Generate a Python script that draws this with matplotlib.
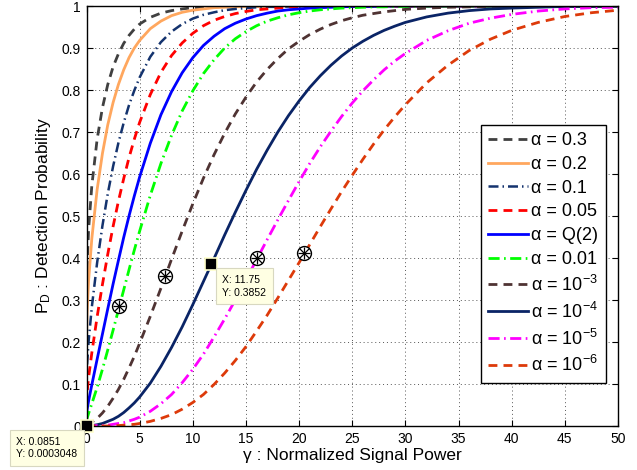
import matplotlib
matplotlib.use('Agg')
import matplotlib.pyplot as plt

plt.rcParams['font.family'] = ['Liberation Sans', 'DejaVu Sans']
plt.rcParams['mathtext.fontset'] = 'custom'
plt.rcParams['mathtext.rm'] = 'Liberation Sans'
plt.rcParams['mathtext.it'] = 'Liberation Sans:italic'

# Normalized signal power (x values)
gamma = [0, 0.05, 0.2, 0.5, 1, 1.5, 2, 2.5, 3, 3.5, 4, 4.5, 5,
         6, 7, 8, 9, 10, 11, 12, 13, 14, 15, 16, 17, 18, 19, 20,
         21, 22, 23, 24, 25, 26, 27, 28, 29, 30,
         32, 34, 36, 38, 40, 42.5, 45, 47.5, 50]

pd_a03 = [0.300, 0.382, 0.469, 0.572, 0.683, 0.758, 0.813, 0.855, 0.886, 0.911, 0.930, 0.945, 0.957,
          0.973, 0.983, 0.989, 0.993, 0.996, 0.997, 0.998, 0.999, 0.999, 1.000, 1.000, 1.000, 1.000, 1.000, 1.000,
          1.000, 1.000, 1.000, 1.000, 1.000, 1.000, 1.000, 1.000, 1.000, 1.000,
          1.000, 1.000, 1.000, 1.000, 1.000, 1.000, 1.000, 1.000, 1.000]
pd_a02 = [0.200, 0.268, 0.347, 0.446, 0.563, 0.649, 0.717, 0.770, 0.813, 0.848, 0.877, 0.900, 0.918,
          0.946, 0.964, 0.977, 0.985, 0.990, 0.993, 0.996, 0.997, 0.998, 0.999, 0.999, 0.999, 1.000, 1.000, 1.000,
          1.000, 1.000, 1.000, 1.000, 1.000, 1.000, 1.000, 1.000, 1.000, 1.000,
          1.000, 1.000, 1.000, 1.000, 1.000, 1.000, 1.000, 1.000, 1.000]
pd_a01 = [0.100, 0.145, 0.202, 0.283, 0.389, 0.477, 0.553, 0.618, 0.674, 0.722, 0.764, 0.799, 0.830,
          0.879, 0.914, 0.939, 0.957, 0.970, 0.979, 0.985, 0.990, 0.993, 0.995, 0.997, 0.998, 0.998, 0.999, 0.999,
          0.999, 1.000, 1.000, 1.000, 1.000, 1.000, 1.000, 1.000, 1.000, 1.000,
          1.000, 1.000, 1.000, 1.000, 1.000, 1.000, 1.000, 1.000, 1.000]
pd_a005 = [0.050, 0.078, 0.116, 0.174, 0.260, 0.337, 0.409, 0.475, 0.535, 0.589, 0.639, 0.683, 0.723,
           0.789, 0.842, 0.882, 0.912, 0.935, 0.953, 0.966, 0.975, 0.982, 0.987, 0.991, 0.993, 0.995, 0.997, 0.998,
           0.998, 0.999, 0.999, 0.999, 0.999, 1.000, 1.000, 1.000, 1.000, 1.000,
           1.000, 1.000, 1.000, 1.000, 1.000, 1.000, 1.000, 1.000, 1.000]
pd_aq2 = [0.023, 0.038, 0.060, 0.098, 0.159, 0.219, 0.279, 0.338, 0.394, 0.449, 0.500, 0.548, 0.593,
          0.673, 0.741, 0.796, 0.841, 0.877, 0.906, 0.928, 0.946, 0.959, 0.969, 0.977, 0.983, 0.988, 0.991, 0.993,
          0.995, 0.996, 0.997, 0.998, 0.999, 0.999, 0.999, 1.000, 1.000, 1.000,
          1.000, 1.000, 1.000, 1.000, 1.000, 1.000, 1.000, 1.000, 1.000]
pd_a001 = [0.010, 0.018, 0.030, 0.053, 0.092, 0.135, 0.181, 0.228, 0.276, 0.324, 0.372, 0.419, 0.464,
           0.549, 0.625, 0.692, 0.750, 0.798, 0.839, 0.872, 0.900, 0.922, 0.939, 0.953, 0.964, 0.972, 0.979, 0.984,
           0.988, 0.991, 0.993, 0.995, 0.996, 0.997, 0.998, 0.998, 0.999, 0.999,
           1.000, 1.000, 1.000, 1.000, 1.000, 1.000, 1.000, 1.000, 1.000]
pd_a1e3 = [0.001, 0.002, 0.004, 0.009, 0.018, 0.031, 0.047, 0.066, 0.087, 0.111, 0.138, 0.166, 0.197,
           0.261, 0.328, 0.397, 0.464, 0.529, 0.590, 0.646, 0.697, 0.743, 0.783, 0.819, 0.849, 0.875, 0.898, 0.916,
           0.932, 0.945, 0.956, 0.965, 0.972, 0.978, 0.982, 0.986, 0.989, 0.992,
           0.995, 0.997, 0.998, 0.999, 0.999, 1.000, 1.000, 1.000, 1.000]
pd_a1e4 = [0.000, 0.000, 0.001, 0.001, 0.003, 0.006, 0.011, 0.016, 0.023, 0.032, 0.043, 0.055, 0.069,
           0.102, 0.142, 0.187, 0.236, 0.289, 0.344, 0.399, 0.455, 0.509, 0.561, 0.611, 0.657, 0.700, 0.739, 0.774,
           0.806, 0.834, 0.859, 0.881, 0.900, 0.916, 0.930, 0.942, 0.952, 0.961,
           0.974, 0.983, 0.989, 0.993, 0.995, 0.997, 0.999, 0.999, 1.000]
pd_a1e5 = [0.000, 0.000, 0.000, 0.000, 0.001, 0.001, 0.002, 0.004, 0.006, 0.008, 0.012, 0.016, 0.021,
           0.035, 0.053, 0.075, 0.103, 0.135, 0.171, 0.212, 0.255, 0.300, 0.348, 0.396, 0.444, 0.491, 0.537, 0.582,
           0.625, 0.665, 0.702, 0.737, 0.769, 0.798, 0.824, 0.848, 0.869, 0.887,
           0.918, 0.941, 0.959, 0.971, 0.980, 0.988, 0.993, 0.996, 0.997]
pd_a1e6 = [0.000, 0.000, 0.000, 0.000, 0.000, 0.000, 0.000, 0.001, 0.001, 0.002, 0.003, 0.004, 0.006,
           0.011, 0.018, 0.027, 0.040, 0.056, 0.075, 0.099, 0.126, 0.156, 0.189, 0.226, 0.264, 0.305, 0.347, 0.389,
           0.432, 0.475, 0.517, 0.558, 0.597, 0.635, 0.671, 0.705, 0.736, 0.765,
           0.817, 0.859, 0.894, 0.921, 0.942, 0.961, 0.975, 0.984, 0.990]

labels = ['α = 0.3', 'α = 0.2', 'α = 0.1', 'α = 0.05', 'α = Q(2)', 'α = 0.01',
          'α = 10$^{-3}$', 'α = 10$^{-4}$', 'α = 10$^{-5}$', 'α = 10$^{-6}$']

# marked points (circle + asterisk)
mark_x = [3.1, 7.35, 16.05, 20.45]
mark_y = [0.286, 0.357, 0.400, 0.413]

# data tips
tip_x = [11.75, 0.0851]
tip_y = [0.3852, 0.0003048]

series = [pd_a03, pd_a02, pd_a01, pd_a005, pd_aq2, pd_a001, pd_a1e3, pd_a1e4, pd_a1e5, pd_a1e6]
dash = (0, (3.2, 2.2))
dashdot = (0, (4, 1.6, 0.6, 1.6))
styles = [
    dict(color='#404040', ls=dash, lw=2.0),
    dict(color='#FFA75E', ls='-', lw=2.0),
    dict(color='#14336E', ls=dashdot, lw=1.8),
    dict(color='#FF0000', ls=dash, lw=2.0),
    dict(color='#0000FF', ls='-', lw=2.0),
    dict(color='#00FF00', ls=dashdot, lw=2.0),
    dict(color='#4F3333', ls=dash, lw=2.0),
    dict(color='#0A2466', ls='-', lw=2.0),
    dict(color='#FF00FF', ls=dashdot, lw=2.0),
    dict(color='#DD3A0A', ls=dash, lw=2.0),
]

fig = plt.figure(figsize=(6.37, 4.70), dpi=100)
ax = fig.add_axes([86.5/637, 44/470, 531.5/637, 420/470])

for y, st, lab in zip(series, styles, labels):
    ax.plot(gamma, y, label=lab, dash_capstyle='butt', **st)

ax.plot(mark_x, mark_y, 'o', ms=10, mfc='white', mec='black', mew=1.0, zorder=5)
ax.plot(mark_x, mark_y, '+', ms=9, mec='black', mew=0.9, zorder=6)
ax.plot(mark_x, mark_y, 'x', ms=7, mec='black', mew=0.9, zorder=6)

ax.plot(tip_x, tip_y, 's', ms=8, mfc='black', mec='#FFFFCC', mew=1.2, zorder=7, clip_on=False)

box = dict(boxstyle='square,pad=0.65', fc='#FFFFE3', ec='#D8D8C0', lw=0.8)
ax.annotate('X: %.2f\nY: %.4f' % (tip_x[0], tip_y[0]), xy=(tip_x[0], tip_y[0]),
            xytext=(11, -11), textcoords='offset pixels', ha='left', va='top',
            fontsize=7.5, bbox=box, zorder=8, linespacing=1.3)
ax.annotate('X: %.4f\nY: %.7f' % (tip_x[1], tip_y[1]), xy=(tip_x[1], tip_y[1]),
            xytext=(-71, -11), textcoords='offset pixels', ha='left', va='top',
            fontsize=7.5, bbox=box, zorder=8, linespacing=1.3, annotation_clip=False)

ax.set_xlim(0, 50)
ax.set_ylim(0, 1)
ax.set_xticks(range(0, 51, 5))
ax.set_yticks([i/10 for i in range(11)])
ax.set_yticklabels(['0', '0.1', '0.2', '0.3', '0.4', '0.5', '0.6', '0.7', '0.8', '0.9', '1'])
ax.tick_params(direction='in', top=True, right=True, labelsize=10, length=4, width=0.8, pad=4)
ax.grid(True, ls=(0, (1, 3)), color='#555555', lw=0.7)
for s in ax.spines.values():
    s.set_linewidth(1.0)

ax.set_xlabel('γ : Normalized Signal Power', fontsize=12.5, labelpad=2)
ax.set_ylabel('P$_\\mathrm{D}$ : Detection Probability', fontsize=12.5, labelpad=6)

leg = ax.legend(loc='upper right', bbox_to_anchor=(0.977, 0.717), fontsize=13,
                frameon=True, fancybox=False, edgecolor='black', framealpha=1,
                handlelength=2.2, handletextpad=0.2, labelspacing=0.375,
                borderpad=0.4, borderaxespad=0)
leg.get_frame().set_linewidth(1.0)

fig.savefig('out.png', dpi=100)
